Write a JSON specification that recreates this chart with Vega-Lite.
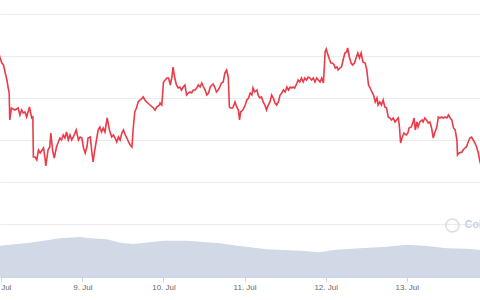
{
"$schema": "https://vega.github.io/schema/vega-lite/v6.json",
"width": 480, "height": 277,
"autosize": {"type": "none"},
"padding": {"left": 0, "top": 0, "right": 0, "bottom": 23},
"background": "white",
"config": {"view": {"stroke": null}},
"datasets": {
"price": [
{"t":"2023-07-07T23:00Z","p":2.50},{"t":"2023-07-07T23:40Z","p":2.42},{"t":"2023-07-08T00:10Z","p":2.37},{"t":"2023-07-08T00:40Z","p":2.35},{"t":"2023-07-08T01:10Z","p":2.27},{"t":"2023-07-08T01:40Z","p":2.20},{"t":"2023-07-08T02:00Z","p":2.13},{"t":"2023-07-08T02:20Z","p":2.07},{"t":"2023-07-08T02:30Z","p":1.80},{"t":"2023-07-08T03:00Z","p":1.92},{"t":"2023-07-08T04:00Z","p":1.90},{"t":"2023-07-08T05:00Z","p":1.92},{"t":"2023-07-08T05:30Z","p":1.85},{"t":"2023-07-08T06:00Z","p":1.90},{"t":"2023-07-08T06:30Z","p":1.87},{"t":"2023-07-08T07:00Z","p":1.88},{"t":"2023-07-08T07:30Z","p":1.83},{"t":"2023-07-08T08:20Z","p":1.93},{"t":"2023-07-08T09:00Z","p":1.82},{"t":"2023-07-08T09:20Z","p":1.83},{"t":"2023-07-08T09:30Z","p":1.43},{"t":"2023-07-08T10:00Z","p":1.43},{"t":"2023-07-08T10:30Z","p":1.40},{"t":"2023-07-08T11:00Z","p":1.50},{"t":"2023-07-08T11:30Z","p":1.47},{"t":"2023-07-08T12:30Z","p":1.52},{"t":"2023-07-08T13:00Z","p":1.40},{"t":"2023-07-08T13:10Z","p":1.34},{"t":"2023-07-08T13:50Z","p":1.50},{"t":"2023-07-08T14:20Z","p":1.53},{"t":"2023-07-08T14:40Z","p":1.67},{"t":"2023-07-08T15:10Z","p":1.50},{"t":"2023-07-08T15:40Z","p":1.42},{"t":"2023-07-08T16:20Z","p":1.53},{"t":"2023-07-08T17:20Z","p":1.62},{"t":"2023-07-08T17:50Z","p":1.60},{"t":"2023-07-08T18:20Z","p":1.65},{"t":"2023-07-08T18:50Z","p":1.62},{"t":"2023-07-08T19:20Z","p":1.68},{"t":"2023-07-08T19:50Z","p":1.60},{"t":"2023-07-08T20:20Z","p":1.65},{"t":"2023-07-08T20:50Z","p":1.60},{"t":"2023-07-08T21:20Z","p":1.63},{"t":"2023-07-08T22:10Z","p":1.70},{"t":"2023-07-08T22:50Z","p":1.60},{"t":"2023-07-08T23:20Z","p":1.63},{"t":"2023-07-08T23:50Z","p":1.62},
{"t":"2023-07-09T00:20Z","p":1.52},{"t":"2023-07-09T00:50Z","p":1.47},{"t":"2023-07-09T01:20Z","p":1.53},{"t":"2023-07-09T01:40Z","p":1.62},{"t":"2023-07-09T02:20Z","p":1.63},{"t":"2023-07-09T02:50Z","p":1.47},{"t":"2023-07-09T03:10Z","p":1.38},{"t":"2023-07-09T03:40Z","p":1.50},{"t":"2023-07-09T04:10Z","p":1.60},{"t":"2023-07-09T04:40Z","p":1.70},{"t":"2023-07-09T05:10Z","p":1.73},{"t":"2023-07-09T05:40Z","p":1.68},{"t":"2023-07-09T06:10Z","p":1.72},{"t":"2023-07-09T06:40Z","p":1.68},{"t":"2023-07-09T07:20Z","p":1.82},{"t":"2023-07-09T08:00Z","p":1.70},{"t":"2023-07-09T08:40Z","p":1.63},{"t":"2023-07-09T09:10Z","p":1.65},{"t":"2023-07-09T09:40Z","p":1.62},{"t":"2023-07-09T10:10Z","p":1.58},{"t":"2023-07-09T10:40Z","p":1.63},{"t":"2023-07-09T11:10Z","p":1.60},{"t":"2023-07-09T11:40Z","p":1.67},{"t":"2023-07-09T12:10Z","p":1.70},{"t":"2023-07-09T12:40Z","p":1.65},{"t":"2023-07-09T13:10Z","p":1.62},{"t":"2023-07-09T13:40Z","p":1.58},{"t":"2023-07-09T14:10Z","p":1.55},{"t":"2023-07-09T14:40Z","p":1.53},{"t":"2023-07-09T15:00Z","p":1.70},{"t":"2023-07-09T15:30Z","p":1.88},{"t":"2023-07-09T16:00Z","p":1.92},{"t":"2023-07-09T16:30Z","p":1.98},{"t":"2023-07-09T17:00Z","p":2.00},{"t":"2023-07-09T17:30Z","p":2.01},{"t":"2023-07-09T18:00Z","p":2.03},{"t":"2023-07-09T18:30Z","p":2.00},{"t":"2023-07-09T19:00Z","p":1.98},{"t":"2023-07-09T20:00Z","p":1.95},{"t":"2023-07-09T21:00Z","p":1.92},{"t":"2023-07-09T21:30Z","p":1.90},{"t":"2023-07-09T22:00Z","p":1.93},{"t":"2023-07-09T22:50Z","p":1.95},{"t":"2023-07-09T23:00Z","p":1.97},{"t":"2023-07-09T23:30Z","p":1.95},
{"t":"2023-07-10T00:00Z","p":2.18},{"t":"2023-07-10T00:30Z","p":2.20},{"t":"2023-07-10T01:00Z","p":2.22},{"t":"2023-07-10T01:30Z","p":2.22},{"t":"2023-07-10T02:00Z","p":2.15},{"t":"2023-07-10T02:30Z","p":2.23},{"t":"2023-07-10T02:50Z","p":2.33},{"t":"2023-07-10T03:20Z","p":2.22},{"t":"2023-07-10T03:50Z","p":2.15},{"t":"2023-07-10T04:20Z","p":2.12},{"t":"2023-07-10T04:50Z","p":2.13},{"t":"2023-07-10T05:20Z","p":2.10},{"t":"2023-07-10T05:50Z","p":2.13},{"t":"2023-07-10T06:20Z","p":2.15},{"t":"2023-07-10T06:50Z","p":2.05},{"t":"2023-07-10T07:20Z","p":2.07},{"t":"2023-07-10T07:50Z","p":2.08},{"t":"2023-07-10T08:20Z","p":2.07},{"t":"2023-07-10T08:50Z","p":2.10},{"t":"2023-07-10T09:20Z","p":2.10},{"t":"2023-07-10T09:50Z","p":2.12},{"t":"2023-07-10T10:20Z","p":2.15},{"t":"2023-07-10T10:50Z","p":2.13},{"t":"2023-07-10T11:20Z","p":2.17},{"t":"2023-07-10T11:50Z","p":2.13},{"t":"2023-07-10T12:20Z","p":2.10},{"t":"2023-07-10T12:50Z","p":2.05},{"t":"2023-07-10T13:20Z","p":2.07},{"t":"2023-07-10T13:50Z","p":2.13},{"t":"2023-07-10T14:20Z","p":2.15},{"t":"2023-07-10T14:40Z","p":2.16},{"t":"2023-07-10T15:10Z","p":2.13},{"t":"2023-07-10T15:40Z","p":2.08},{"t":"2023-07-10T16:10Z","p":2.10},{"t":"2023-07-10T16:40Z","p":2.13},{"t":"2023-07-10T17:10Z","p":2.17},{"t":"2023-07-10T17:40Z","p":2.18},{"t":"2023-07-10T18:10Z","p":2.27},{"t":"2023-07-10T18:40Z","p":2.30},{"t":"2023-07-10T19:10Z","p":2.23},{"t":"2023-07-10T19:30Z","p":1.93},{"t":"2023-07-10T19:50Z","p":1.92},{"t":"2023-07-10T20:30Z","p":1.92},{"t":"2023-07-10T21:10Z","p":1.98},{"t":"2023-07-10T21:40Z","p":1.93},{"t":"2023-07-10T22:10Z","p":1.90},{"t":"2023-07-10T22:30Z","p":1.80},{"t":"2023-07-10T22:50Z","p":1.88},{"t":"2023-07-10T23:30Z","p":1.90},
{"t":"2023-07-11T00:10Z","p":1.95},{"t":"2023-07-11T00:40Z","p":2.00},{"t":"2023-07-11T01:10Z","p":2.02},{"t":"2023-07-11T01:40Z","p":2.07},{"t":"2023-07-11T02:10Z","p":2.05},{"t":"2023-07-11T02:30Z","p":2.12},{"t":"2023-07-11T03:00Z","p":2.08},{"t":"2023-07-11T03:40Z","p":2.10},{"t":"2023-07-11T04:00Z","p":2.05},{"t":"2023-07-11T04:30Z","p":2.02},{"t":"2023-07-11T05:00Z","p":2.03},{"t":"2023-07-11T05:30Z","p":1.98},{"t":"2023-07-11T06:00Z","p":1.95},{"t":"2023-07-11T06:30Z","p":1.90},{"t":"2023-07-11T07:00Z","p":1.95},{"t":"2023-07-11T07:30Z","p":1.98},{"t":"2023-07-11T08:00Z","p":2.05},{"t":"2023-07-11T08:30Z","p":2.02},{"t":"2023-07-11T09:00Z","p":1.97},{"t":"2023-07-11T09:30Z","p":1.95},{"t":"2023-07-11T10:00Z","p":1.98},{"t":"2023-07-11T10:30Z","p":2.05},{"t":"2023-07-11T11:00Z","p":2.07},{"t":"2023-07-11T11:30Z","p":2.10},{"t":"2023-07-11T12:00Z","p":2.08},{"t":"2023-07-11T12:30Z","p":2.13},{"t":"2023-07-11T13:00Z","p":2.10},{"t":"2023-07-11T13:30Z","p":2.13},{"t":"2023-07-11T14:00Z","p":2.12},{"t":"2023-07-11T14:20Z","p":2.13},{"t":"2023-07-11T14:50Z","p":2.12},{"t":"2023-07-11T15:30Z","p":2.17},{"t":"2023-07-11T15:50Z","p":2.20},{"t":"2023-07-11T16:20Z","p":2.18},{"t":"2023-07-11T16:50Z","p":2.22},{"t":"2023-07-11T17:20Z","p":2.18},{"t":"2023-07-11T17:50Z","p":2.22},{"t":"2023-07-11T18:20Z","p":2.20},{"t":"2023-07-11T18:50Z","p":2.23},{"t":"2023-07-11T19:20Z","p":2.22},{"t":"2023-07-11T19:50Z","p":2.20},{"t":"2023-07-11T20:20Z","p":2.22},{"t":"2023-07-11T20:50Z","p":2.18},{"t":"2023-07-11T21:20Z","p":2.22},{"t":"2023-07-11T21:50Z","p":2.20},{"t":"2023-07-11T22:20Z","p":2.18},{"t":"2023-07-11T22:50Z","p":2.22},{"t":"2023-07-11T23:20Z","p":2.17},{"t":"2023-07-11T23:30Z","p":2.27},{"t":"2023-07-11T23:50Z","p":2.48},
{"t":"2023-07-12T00:10Z","p":2.51},{"t":"2023-07-12T00:30Z","p":2.47},{"t":"2023-07-12T01:00Z","p":2.42},{"t":"2023-07-12T01:30Z","p":2.37},{"t":"2023-07-12T02:00Z","p":2.37},{"t":"2023-07-12T02:30Z","p":2.35},{"t":"2023-07-12T02:50Z","p":2.32},{"t":"2023-07-12T03:20Z","p":2.33},{"t":"2023-07-12T03:40Z","p":2.30},{"t":"2023-07-12T04:10Z","p":2.32},{"t":"2023-07-12T04:40Z","p":2.33},{"t":"2023-07-12T05:10Z","p":2.40},{"t":"2023-07-12T05:40Z","p":2.47},{"t":"2023-07-12T06:10Z","p":2.48},{"t":"2023-07-12T06:30Z","p":2.52},{"t":"2023-07-12T07:00Z","p":2.43},{"t":"2023-07-12T07:30Z","p":2.37},{"t":"2023-07-12T08:00Z","p":2.35},{"t":"2023-07-12T08:30Z","p":2.37},{"t":"2023-07-12T09:00Z","p":2.42},{"t":"2023-07-12T09:30Z","p":2.47},{"t":"2023-07-12T10:00Z","p":2.42},{"t":"2023-07-12T10:30Z","p":2.47},{"t":"2023-07-12T11:00Z","p":2.38},{"t":"2023-07-12T11:40Z","p":2.37},{"t":"2023-07-12T12:10Z","p":2.30},{"t":"2023-07-12T12:40Z","p":2.15},{"t":"2023-07-12T13:10Z","p":2.12},{"t":"2023-07-12T13:40Z","p":2.08},{"t":"2023-07-12T14:10Z","p":2.05},{"t":"2023-07-12T14:40Z","p":1.98},{"t":"2023-07-12T15:10Z","p":2.02},{"t":"2023-07-12T15:30Z","p":1.95},{"t":"2023-07-12T16:00Z","p":1.98},{"t":"2023-07-12T16:30Z","p":1.95},{"t":"2023-07-12T17:00Z","p":2.00},{"t":"2023-07-12T17:30Z","p":1.93},{"t":"2023-07-12T18:00Z","p":1.92},{"t":"2023-07-12T18:30Z","p":1.83},{"t":"2023-07-12T19:00Z","p":1.82},{"t":"2023-07-12T19:30Z","p":1.80},{"t":"2023-07-12T20:00Z","p":1.82},{"t":"2023-07-12T20:30Z","p":1.78},{"t":"2023-07-12T21:00Z","p":1.80},{"t":"2023-07-12T21:30Z","p":1.82},{"t":"2023-07-12T21:50Z","p":1.73},{"t":"2023-07-12T22:10Z","p":1.57},{"t":"2023-07-12T22:40Z","p":1.63},{"t":"2023-07-12T23:10Z","p":1.67},{"t":"2023-07-12T23:50Z","p":1.65},
{"t":"2023-07-13T00:20Z","p":1.67},{"t":"2023-07-13T00:40Z","p":1.72},{"t":"2023-07-13T01:20Z","p":1.73},{"t":"2023-07-13T01:50Z","p":1.78},{"t":"2023-07-13T02:10Z","p":1.82},{"t":"2023-07-13T02:30Z","p":1.70},{"t":"2023-07-13T03:00Z","p":1.78},{"t":"2023-07-13T03:20Z","p":1.73},{"t":"2023-07-13T03:50Z","p":1.78},{"t":"2023-07-13T04:30Z","p":1.80},{"t":"2023-07-13T04:50Z","p":1.78},{"t":"2023-07-13T05:20Z","p":1.82},{"t":"2023-07-13T05:50Z","p":1.80},{"t":"2023-07-13T06:20Z","p":1.77},{"t":"2023-07-13T06:50Z","p":1.78},{"t":"2023-07-13T07:20Z","p":1.72},{"t":"2023-07-13T07:50Z","p":1.62},{"t":"2023-07-13T08:20Z","p":1.68},{"t":"2023-07-13T08:50Z","p":1.72},{"t":"2023-07-13T09:20Z","p":1.83},{"t":"2023-07-13T09:50Z","p":1.82},{"t":"2023-07-13T10:20Z","p":1.83},{"t":"2023-07-13T10:50Z","p":1.82},{"t":"2023-07-13T11:20Z","p":1.83},{"t":"2023-07-13T11:50Z","p":1.82},{"t":"2023-07-13T12:20Z","p":1.85},{"t":"2023-07-13T12:50Z","p":1.82},{"t":"2023-07-13T13:20Z","p":1.80},{"t":"2023-07-13T13:50Z","p":1.72},{"t":"2023-07-13T14:20Z","p":1.70},{"t":"2023-07-13T14:50Z","p":1.60},{"t":"2023-07-13T15:00Z","p":1.45},{"t":"2023-07-13T15:30Z","p":1.47},{"t":"2023-07-13T16:20Z","p":1.48},{"t":"2023-07-13T16:40Z","p":1.50},{"t":"2023-07-13T17:10Z","p":1.52},{"t":"2023-07-13T17:40Z","p":1.53},{"t":"2023-07-13T18:10Z","p":1.58},{"t":"2023-07-13T18:40Z","p":1.62},{"t":"2023-07-13T19:10Z","p":1.63},{"t":"2023-07-13T19:40Z","p":1.60},{"t":"2023-07-13T20:10Z","p":1.57},{"t":"2023-07-13T20:40Z","p":1.53},{"t":"2023-07-13T21:10Z","p":1.47},{"t":"2023-07-13T21:40Z","p":1.38},{"t":"2023-07-13T22:30Z","p":1.30}
],
"volume": [
{"t":"2023-07-07T23:00Z","v":31},{"t":"2023-07-08T08:30Z","v":34.3},{"t":"2023-07-08T17:20Z","v":38.7},{"t":"2023-07-08T23:20Z","v":40},{"t":"2023-07-09T02:20Z","v":38.7},{"t":"2023-07-09T07:20Z","v":37.7},{"t":"2023-07-09T11:10Z","v":34.3},{"t":"2023-07-09T15:00Z","v":33},{"t":"2023-07-10T00:00Z","v":36.3},{"t":"2023-07-10T07:00Z","v":36.3},{"t":"2023-07-10T16:40Z","v":33.7},{"t":"2023-07-10T22:40Z","v":31},{"t":"2023-07-11T06:40Z","v":27.7},{"t":"2023-07-11T16:20Z","v":26.3},{"t":"2023-07-11T22:20Z","v":24.7},{"t":"2023-07-12T02:10Z","v":27},{"t":"2023-07-12T10:10Z","v":28.7},{"t":"2023-07-12T18:10Z","v":30.3},{"t":"2023-07-13T00:00Z","v":32.3},{"t":"2023-07-13T06:00Z","v":31},{"t":"2023-07-13T11:50Z","v":28.7},{"t":"2023-07-13T17:50Z","v":28.3},{"t":"2023-07-13T21:40Z","v":27},{"t":"2023-07-13T22:30Z","v":27}
],
"wm": [
{"t":"2023-07-13T13:30Z","p":0.745,"kind":"logo","label":""},
{"t":"2023-07-13T17:10Z","p":0.75,"kind":"text","label":"CoinGecko"}
]
},
"encoding": {
"x": {"field":"t","type":"temporal",
 "scale":{"type":"utc","nice":false,"domain":[{"year":2023,"month":7,"date":7,"hours":23,"minutes":37,"utc":true},{"year":2023,"month":7,"date":13,"hours":21,"minutes":40,"utc":true}]},
 "axis":{"title":null,"grid":false,"format":"%-d. %b",
  "values":[{"year":2023,"month":7,"date":8,"utc":true},{"year":2023,"month":7,"date":9,"utc":true},{"year":2023,"month":7,"date":10,"utc":true},{"year":2023,"month":7,"date":11,"utc":true},{"year":2023,"month":7,"date":12,"utc":true},{"year":2023,"month":7,"date":13,"utc":true},{"year":2023,"month":7,"date":14,"utc":true}],
  "labelFont":"Liberation Sans","labelFontSize":8,"labelColor":"#666666","labelPadding":1,
  "tickSize":5,"tickColor":"#ccd6eb","domainColor":"#ccd6eb","labelFlush":false,"labelOverlap":false,"labelBound":false}}
},
"layer": [
{"data":{"name":"volume"},
 "mark":{"type":"area","color":"#d1d8e6","clip":true,"interpolate":"linear"},
 "encoding":{"y":{"field":"v","type":"quantitative","scale":{"domain":[0,277],"nice":false},"axis":null}}},
{"data":{"name":"price"},
 "mark":{"type":"line","color":"#eb3a48","strokeWidth":1.6,"clip":true},
 "encoding":{"y":{"field":"p","type":"quantitative","scale":{"domain":[0.23,3.0],"nice":false,"zero":false},
  "axis":{"values":[0.76,1.18,1.6,2.02,2.44,2.86],"grid":true,"gridColor":"#ebebeb","labels":false,"ticks":false,"domain":false,"title":null}}}},
{"data":{"name":"wm"},"transform":[{"filter":"datum.kind === 'logo'"}],
 "mark":{"type":"point","shape":"circle","filled":false,"stroke":"#c9d1e2","strokeWidth":1.5,"size":170,"clip":true},
 "encoding":{"y":{"field":"p","type":"quantitative","scale":{"domain":[0.23,3.0],"nice":false,"zero":false},"axis":null}}},
{"data":{"name":"wm"},"transform":[{"filter":"datum.kind === 'text'"}],
 "mark":{"type":"text","align":"left","baseline":"middle","font":"Liberation Sans","fontSize":10.5,"fontWeight":"bold","color":"#c9d1e2"},
 "encoding":{"text":{"field":"label"},"y":{"field":"p","type":"quantitative","scale":{"domain":[0.23,3.0],"nice":false,"zero":false},"axis":null}}}
],
"resolve": {"scale": {"y": "independent"}}
}
